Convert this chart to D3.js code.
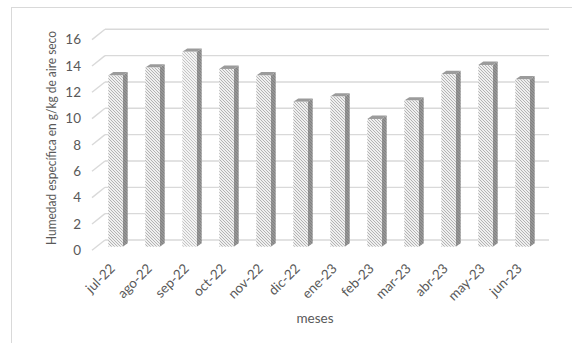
<!DOCTYPE html>
<html><head><meta charset="utf-8">
<script src="https://cdn.jsdelivr.net/npm/d3@7"></script>
<style>body{margin:0;background:#fff}svg{display:block}</style>
</head><body>
<svg id="c" width="572" height="343"></svg>
<script>
const months = ["jul-22","ago-22","sep-22","oct-22","nov-22","dic-22","ene-23","feb-23","mar-23","abr-23","may-23","jun-23"];
const humidity = [13.0, 13.6, 14.8, 13.5, 13.0, 11.0, 11.4, 9.7, 11.1, 13.1, 13.8, 12.7];
const yTicks = [0,2,4,6,8,10,12,14,16];
const yTitle = "Humedad específica en g/kg de aire seco";
const xTitle = "meses";

const svg = d3.select("#c");
const font = "Lato, 'Liberation Sans', Arial, sans-serif";
const txt = "#595959";

// border
svg.append("rect").attr("x",11.5).attr("y",7.5).attr("width",620).attr("height",400)
  .attr("fill","none").attr("stroke","#d9d9d9").attr("stroke-width",1);

// patterns
const defs = svg.append("defs");
function hatch(id, bg, fg, dir){
  const p = defs.append("pattern").attr("id",id).attr("patternUnits","userSpaceOnUse")
    .attr("width",3).attr("height",3);
  p.append("rect").attr("width",3).attr("height",3).attr("fill",bg);
  const d = dir>0 ? "M0,0L3,3M-1,2L1,4M2,-1L4,1" : "M0,3L3,0M-1,1L1,-1M2,4L4,2";
  p.append("path").attr("d",d).attr("stroke",fg).attr("stroke-width",0.8);
}
hatch("hFront","#efefef","#a3a3a3",1);
hatch("hFrontL","#f3f3f3","#b8b8b8",1);
hatch("hSide","#959595","#7c7c7c",1);

// back-wall scale
const yB = d3.scaleLinear().domain([0,16]).range([240,29.3]);
const wallX0 = 105, wallX1 = 549;
const sideDx = -13, sideDy = 10.3;      // side wall depth (front edge offset)
const barDx = -8.7, barDy = 6.7;        // bar front plane offset from back wall
const depthDx = 5, depthDy = -3.4;      // bar depth

const x = d3.scaleBand().domain(months).range([wallX0+barDx+0.7, wallX1+barDx+0.7])
  .paddingInner(0.61).paddingOuter(0.305);

const grid = svg.append("g").attr("stroke","#d9d9d9").attr("stroke-width",1.4).attr("fill","none");
yTicks.forEach(v=>{
  grid.append("line").attr("x1",wallX0).attr("x2",wallX1).attr("y1",yB(v)).attr("y2",yB(v));
  grid.append("line").attr("x1",wallX0+sideDx).attr("y1",yB(v)+sideDy).attr("x2",wallX0).attr("y2",yB(v));
});

// y tick labels
svg.append("g").selectAll("text").data(yTicks).join("text")
  .attr("x",81).attr("y",d=>yB(d)+sideDy).attr("dy","0.35em")
  .attr("text-anchor","end").attr("font-family",font).attr("font-size",13.5).attr("fill",txt)
  .text(d=>d);

// bars
const yF = v => yB(v) + barDy;
const bars = svg.append("g");
months.forEach((m,i)=>{
  const v = humidity[i];
  const x0 = x(m), w = x.bandwidth(), x1 = x0 + w;
  const yt = yF(v), yb = yF(0);
  const g = bars.append("g");
  g.append("path").attr("d",`M${x1},${yb}L${x1+depthDx},${yb+depthDy}L${x1+depthDx},${yt+depthDy}L${x1},${yt}Z`)
    .attr("fill","url(#hSide)");
  g.append("path").attr("d",`M${x0},${yt}L${x1},${yt}L${x1+depthDx},${yt+depthDy}L${x0+depthDx},${yt+depthDy}Z`)
    .attr("fill","#9b9b9b");
  g.append("rect").attr("x",x0).attr("y",yt).attr("width",w).attr("height",yb-yt)
    .attr("fill", m==="sep-22" ? "url(#hFrontL)" : "url(#hFront)");
});

// x labels
svg.append("g").selectAll("text").data(months).join("text")
  .attr("transform",d=>`translate(${x(d)+x.bandwidth()/2-3},${266}) rotate(-45)`)
  .attr("dy","0.35em").attr("text-anchor","end")
  .attr("font-family",font).attr("font-size",13.5).attr("fill",txt).text(d=>d);

// titles
svg.append("text").attr("transform","translate(56,138) rotate(-90)")
  .attr("text-anchor","middle").attr("font-family",font).attr("font-size",13.5).attr("fill",txt)
  .attr("textLength",214).attr("lengthAdjust","spacingAndGlyphs")
  .text(yTitle);
svg.append("text").attr("x",315).attr("y",318).attr("dy","0.35em")
  .attr("text-anchor","middle").attr("font-family",font).attr("font-size",13.5).attr("fill",txt)
  .text(xTitle);
</script>
</body></html>
